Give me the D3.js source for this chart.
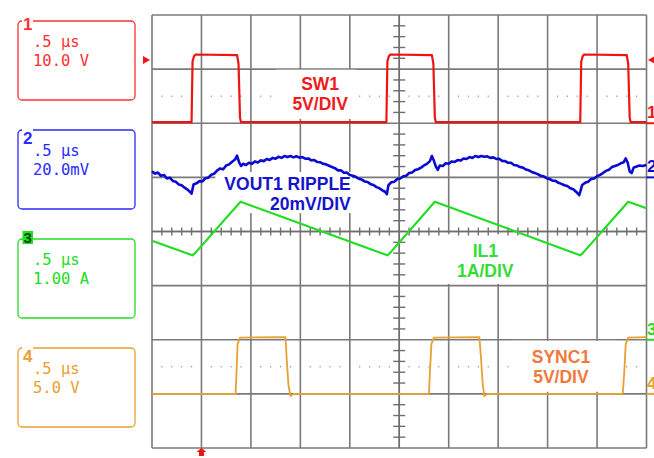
<!DOCTYPE html>
<html>
<head>
<meta charset="utf-8">
<script src="https://cdn.jsdelivr.net/npm/d3@7"></script>
<style>
  body { margin: 0; background: #fff; }
  svg { display: block; }
</style>
</head>
<body>
<div id="scope"></div>
<script>
// channel settings (box readouts, trace colours, offsets in divisions from centre)
const channelIds = ["1", "2", "3", "4"];
const channelColors = ["#ee1414", "#0a0ad0", "#22dd22", "#e8a030"];
const boxColors = ["#ff3030", "#2a2aff", "#22dd22", "#e8a030"];
const timeLabels = [".5 µs", ".5 µs", ".5 µs", ".5 µs"];
const scaleLabels = ["10.0 V", "20.0mV", "1.00 A", "5.0 V"];
const unitsPerDiv = [10, 20, 1, 5]; // V, mV, A, V
const offsetsDiv = [2, 1, -2, -3];

// SW1 switch node [µs, V]
const sw1 = [
  [0, 0.2], [0.40, 0.2], [0.41, 11.4], [0.425, 12.4], [0.44, 12.7], [0.86, 12.6],
  [0.875, 11], [0.89, 1], [0.90, 0.2], [2.37, 0.2], [2.38, 11.4], [2.395, 12.4],
  [2.41, 12.7], [2.83, 12.6], [2.845, 11], [2.86, 1], [2.87, 0.2], [4.33, 0.2],
  [4.34, 11.4], [4.355, 12.4], [4.37, 12.7], [4.80, 12.6], [4.815, 11], [4.83, 1],
  [4.84, 0.2], [5, 0.2]
];

// VOUT1 ripple [µs, mV]
const vout1 = [
  [0, 2.2], [0.03, 1.4], [0.06, 1.8], [0.09, 0.6], [0.12, 0.9], [0.15, -0.4], [0.18, -0.1],
  [0.21, -1.3], [0.24, -1.6], [0.27, -2.6], [0.30, -2.9], [0.33, -3.8], [0.36, -4.6],
  [0.38, -5.2], [0.40, -6.0], [0.42, -2.6], [0.45, -2.2], [0.48, -1.4], [0.51, -1.5],
  [0.54, -0.3], [0.57, -0.1], [0.60, 1.0], [0.63, 1.4], [0.66, 2.6], [0.69, 3.3], [0.72, 3.0],
  [0.75, 4.4], [0.78, 4.8], [0.81, 5.8], [0.84, 6.6], [0.86, 8.0], [0.88, 5.6], [0.90, 4.2],
  [0.92, 5.0], [0.95, 4.6], [0.98, 5.4], [1.01, 5.0], [1.04, 5.9], [1.07, 5.5], [1.10, 6.3],
  [1.13, 6.0], [1.16, 6.8], [1.19, 6.4], [1.22, 7.2], [1.25, 6.9], [1.28, 7.6], [1.31, 7.2],
  [1.34, 7.9], [1.37, 7.5], [1.40, 7.9], [1.43, 7.4], [1.46, 7.8], [1.49, 7.3], [1.52, 7.5],
  [1.55, 6.9], [1.58, 7.0], [1.61, 6.3], [1.64, 6.4], [1.67, 5.7], [1.70, 5.6], [1.73, 5.0],
  [1.76, 4.8], [1.79, 4.3], [1.82, 3.8], [1.85, 3.4], [1.88, 2.6], [1.91, 2.6], [1.94, 1.7],
  [1.97, 1.8], [2.00, 0.9], [2.03, 0.6], [2.06, 0.2], [2.09, -0.5], [2.12, -0.8], [2.15, -1.5],
  [2.18, -1.7], [2.21, -2.5], [2.24, -2.8], [2.27, -3.6], [2.30, -4.0], [2.33, -4.8],
  [2.36, -5.4], [2.375, -6.2], [2.39, -3.0], [2.42, -1.8], [2.45, -1.6], [2.48, -0.6],
  [2.51, -0.4], [2.54, 0.4], [2.57, 0.6], [2.60, 1.6], [2.63, 1.8], [2.66, 2.7], [2.69, 3.0],
  [2.72, 3.6], [2.75, 4.4], [2.78, 5.0], [2.81, 6.0], [2.83, 7.9], [2.85, 6.2], [2.87, 4.0],
  [2.89, 2.8], [2.91, 4.4], [2.94, 4.2], [2.97, 5.2], [3.00, 5.0], [3.03, 5.9], [3.06, 5.7],
  [3.09, 6.4], [3.12, 6.2], [3.15, 7.0], [3.18, 6.8], [3.21, 7.5], [3.24, 7.2], [3.27, 7.9],
  [3.30, 7.5], [3.33, 7.9], [3.36, 7.6], [3.39, 7.8], [3.42, 7.2], [3.45, 7.4], [3.48, 6.8],
  [3.51, 6.9], [3.54, 6.1], [3.57, 6.0], [3.60, 5.4], [3.63, 5.4], [3.66, 4.6], [3.69, 4.4],
  [3.72, 3.8], [3.75, 3.6], [3.78, 2.9], [3.81, 2.6], [3.84, 2.0], [3.87, 1.6], [3.90, 1.2],
  [3.93, 0.6], [3.96, 0.4], [3.99, -0.3], [4.02, -0.6], [4.05, -1.2], [4.08, -1.3], [4.11, -2.0],
  [4.14, -2.4], [4.17, -2.9], [4.20, -3.2], [4.23, -4.0], [4.26, -4.4], [4.29, -5.4],
  [4.32, -6.6], [4.35, -2.8], [4.38, -2.0], [4.41, -1.6], [4.44, -0.6], [4.47, -0.4],
  [4.50, 0.4], [4.53, 0.9], [4.56, 1.6], [4.59, 2.4], [4.62, 2.8], [4.65, 3.8], [4.68, 4.2],
  [4.71, 4.6], [4.74, 5.2], [4.77, 5.6], [4.79, 7.0], [4.81, 5.4], [4.83, 2.2], [4.85, 1.6],
  [4.87, 3.6], [4.90, 4.0], [4.93, 4.4], [4.96, 4.2], [5.0, 4.6]
];

// IL1 inductor current [µs, A]
const il1 = [
  [0, 1.83], [0.38, 1.58], [0.41, 1.56], [0.44, 1.61], [0.895, 2.55], [2.35, 1.58],
  [2.38, 1.56], [2.41, 1.61], [2.86, 2.55], [4.30, 1.58], [4.33, 1.56], [4.36, 1.61],
  [4.815, 2.55], [5, 2.43]
];

// SYNC1 clock [µs, V]
const sync1 = [
  [0, 0], [0.845, 0], [0.855, 2], [0.865, 4.6], [0.89, 5.2], [1.35, 5.25], [1.36, 3.5],
  [1.38, 0.8], [1.40, -0.2], [1.43, 0], [2.80, 0], [2.81, 2], [2.825, 4.6], [2.85, 5.2],
  [3.31, 5.25], [3.325, 3.5], [3.345, 0.8], [3.36, -0.2], [3.39, 0], [4.76, 0], [4.775, 2],
  [4.79, 4.6], [4.815, 5.2], [5, 5.25]
];

const traces = [sw1, vout1, il1, sync1];

// on-screen labels
const labelLines = [["SW1", "5V/DIV"], ["VOUT1 RIPPLE", "20mV/DIV"], ["IL1", "1A/DIV"], ["SYNC1", "5V/DIV"]];
const labelColors = ["#ee1c1c", "#1414cc", "#33dd33", "#f07a3c"];

const W = 654, H = 458;
const svg = d3.select("#scope").append("svg").attr("width", W).attr("height", H);

// time axis 0..5 µs (10 div x 0.5 µs), vertical in divisions (+4 top .. -4 bottom)
const x = d3.scaleLinear().domain([0, 5]).range([152, 646.5]);
const y = d3.scaleLinear().domain([4, -4]).range([15, 448]);

const gridT = d3.range(0, 5.001, 0.5);
const gridD = d3.range(-4, 4.001, 1);

// white label backgrounds (cover grid), in [t0, t1, d0, d1]
const labelBoxes = [[1.25, 2.06, 2.99, 2.08], [0.64, 2.02, 1.10, 0.34], [2.97, 3.74, -0.05, -0.97], [3.62, 4.71, -2.02, -2.96]];
const labelAnchors = [
  { t: 1.70, d: [2.61, 2.25], anchor: "middle" },
  { t: 2.01, d: [0.77, 0.40], anchor: "end" },
  { t: 3.37, d: [-0.47, -0.84], anchor: "middle" },
  { t: 4.135, d: [-2.43, -2.80], anchor: "middle" }
];

const grid = svg.append("g").attr("stroke", "#7a7a7a").attr("stroke-width", 1.6);
grid.selectAll("line.v")
  .data(gridT)
  .join("line")
  .attr("class", "v")
  .attr("x1", (d) => x(d)).attr("x2", (d) => x(d))
  .attr("y1", y(4)).attr("y2", y(-4));
grid.selectAll("line.h")
  .data(gridD)
  .join("line")
  .attr("class", "h")
  .attr("x1", x(0)).attr("x2", x(5))
  .attr("y1", (d) => y(d)).attr("y2", (d) => y(d));

// dotted half-division lines
const dotT = d3.range(1, 50).filter((k) => k % 5 !== 0).map((k) => k / 10);
[2.5, -2.5].forEach((dv) => {
  svg.append("g")
    .selectAll("rect")
    .data(dotT)
    .join("rect")
    .attr("x", (d) => x(d) - 0.6)
    .attr("y", y(dv) - 0.6)
    .attr("width", 1.2)
    .attr("height", 1.2)
    .attr("fill", "#888");
});

// label boxes hide grid behind them
svg.append("g")
  .selectAll("rect")
  .data(labelBoxes)
  .join("rect")
  .attr("x", (d) => x(d[0]))
  .attr("y", (d) => y(d[2]))
  .attr("width", (d) => x(d[1]) - x(d[0]))
  .attr("height", (d) => y(d[3]) - y(d[2]))
  .attr("fill", "#fff");

// centre axes with minor ticks
const ticks = svg.append("g").attr("stroke", "#6e6e6e").attr("stroke-width", 1.4);
ticks.append("line").attr("x1", x(2.5)).attr("x2", x(2.5)).attr("y1", y(4)).attr("y2", y(-4));
ticks.append("line").attr("x1", x(0)).attr("x2", x(5)).attr("y1", y(0)).attr("y2", y(0));
ticks.selectAll("line.tx")
  .data(dotT)
  .join("line")
  .attr("class", "tx")
  .attr("x1", (d) => x(d)).attr("x2", (d) => x(d))
  .attr("y1", y(0) - 4).attr("y2", y(0) + 4);
const minorD = d3.range(-19, 20).filter((k) => k % 5 !== 0).map((k) => k / 5);
ticks.selectAll("line.ty")
  .data(minorD)
  .join("line")
  .attr("class", "ty")
  .attr("x1", x(2.5) - 6).attr("x2", x(2.5) + 6)
  .attr("y1", (d) => y(d)).attr("y2", (d) => y(d));

// label text
labelAnchors.forEach((a, i) => {
  svg.append("g")
    .selectAll("text")
    .data(labelLines[i])
    .join("text")
    .attr("x", x(a.t))
    .attr("y", (d, j) => y(a.d[j]))
    .attr("text-anchor", a.anchor)
    .attr("font-family", "'Liberation Sans', Arial, sans-serif")
    .attr("font-weight", "bold")
    .attr("font-size", 17.5)
    .attr("fill", labelColors[i])
    .text((d) => d);
});

// traces
const widths = [2.2, 2.6, 2.2, 1.8];
traces.forEach((data, i) => {
  const line = d3.line()
    .x((d) => x(d[0]))
    .y((d) => y(offsetsDiv[i] + d[1] / unitsPerDiv[i]));
  svg.append("path")
    .datum(data)
    .attr("d", line)
    .attr("fill", "none")
    .attr("stroke", channelColors[i])
    .attr("stroke-width", widths[i])
    .attr("stroke-linejoin", "round");
});

// right-hand channel ground markers (clipped by the screen edge as in the scope capture)
channelIds.forEach((id, i) => {
  const gy = y(offsetsDiv[i]);
  svg.append("text")
    .attr("x", 647)
    .attr("y", gy - 5)
    .attr("font-family", "'Liberation Sans', Arial, sans-serif")
    .attr("font-weight", "bold")
    .attr("font-size", 17)
    .attr("fill", channelColors[i])
    .text(id);
  svg.append("line")
    .attr("x1", 646.5).attr("x2", 654)
    .attr("y1", gy).attr("y2", gy)
    .attr("stroke", channelColors[i])
    .attr("stroke-width", 2);
});

// trigger level arrows (ch1, 11.7 V) and trigger position
const trigY = y(offsetsDiv[0] + 11.7 / unitsPerDiv[0]);
svg.append("path")
  .attr("d", `M143,${trigY - 4}L150,${trigY}L143,${trigY + 4}Z`)
  .attr("fill", "#ee1414");
svg.append("path")
  .attr("d", `M648,${trigY}L655,${trigY - 4}L655,${trigY + 4}Z`)
  .attr("fill", "#ee1414");
const tx = x(0.5);
svg.append("path")
  .attr("d", `M${tx},448L${tx + 5},452L${tx + 2.5},452L${tx + 2.5},456L${tx - 2.5},456L${tx - 2.5},452L${tx - 5},452Z`)
  .attr("fill", "#ee1414");

// channel readout boxes on the left
const boxTop = [21, 130, 239, 348];
channelIds.forEach((id, i) => {
  const g = svg.append("g").attr("transform", `translate(18,${boxTop[i]})`);
  g.append("rect")
    .attr("width", 117)
    .attr("height", 79)
    .attr("rx", 4)
    .attr("fill", "none")
    .attr("stroke", boxColors[i])
    .attr("stroke-width", 1.3);
  g.selectAll("text.r")
    .data([timeLabels[i], scaleLabels[i]])
    .join("text")
    .attr("class", "r")
    .attr("x", 15)
    .attr("y", (d, j) => 26 + j * 19)
    .attr("font-family", "'DejaVu Sans Mono', monospace")
    .attr("font-size", 15.5)
    .attr("fill", boxColors[i])
    .text((d) => d);
  // channel number tag on the top border
  if (id === "3") {
    g.append("rect").attr("x", 4.5).attr("y", -8).attr("width", 10.5).attr("height", 13).attr("fill", "#22dd22");
    g.append("text")
      .attr("x", 5.5).attr("y", 4)
      .attr("font-family", "'Liberation Sans', Arial, sans-serif")
      .attr("font-weight", "bold")
      .attr("font-size", 15)
      .attr("fill", "#0a4a0a")
      .text(id);
  } else {
    g.append("rect").attr("x", 4).attr("y", -2).attr("width", 11).attr("height", 4).attr("fill", "#fff");
    g.append("text")
      .attr("x", 5)
      .attr("y", i === 0 ? 9 : 14)
      .attr("font-family", "'Liberation Sans', Arial, sans-serif")
      .attr("font-weight", "bold")
      .attr("font-size", 17)
      .attr("fill", boxColors[i])
      .text(id);
  }
});
</script>
</body>
</html>
